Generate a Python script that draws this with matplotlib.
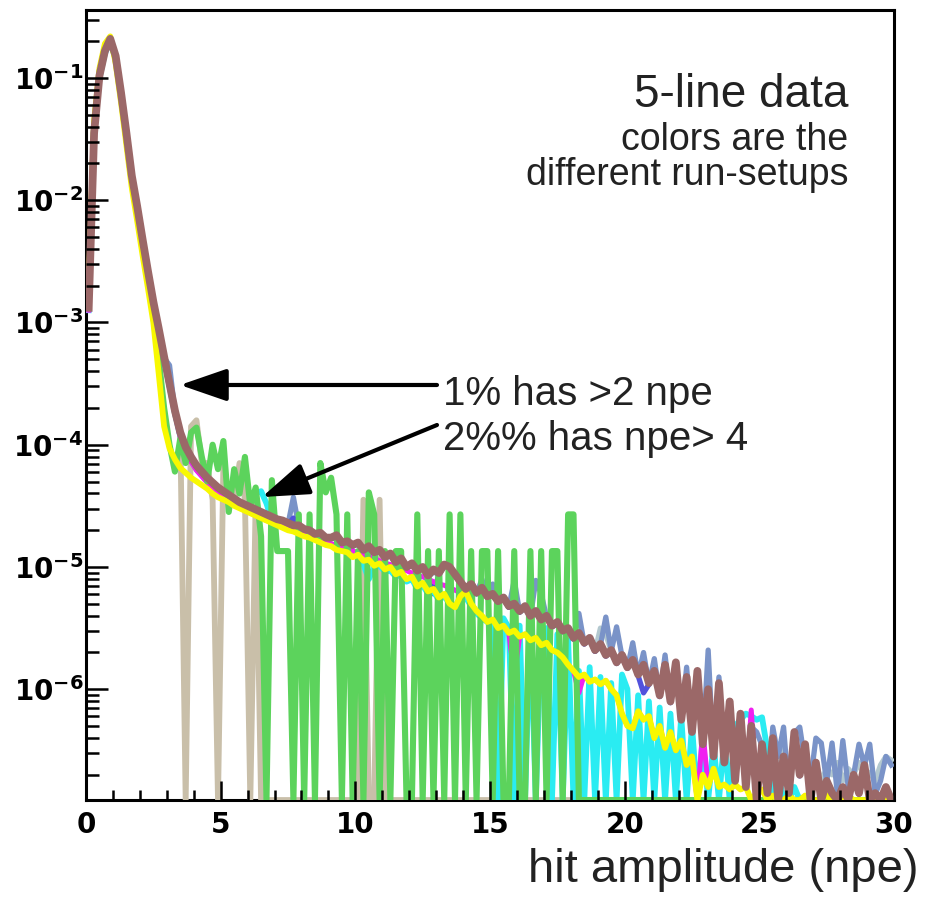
import numpy as np
import matplotlib
matplotlib.use('Agg')
import matplotlib.pyplot as plt
from matplotlib.ticker import FixedLocator, MultipleLocator, LogLocator, NullFormatter

E = np.nan  # empty bin, ROOT draws it on the floor of the frame

# hit amplitude histogram: 150 bins of 0.2 npe from 0 to 30
bin_width = 0.2
n_bins = 150

# log10(normalised bin content), one row = 2 npe
log_brown = [
    -2.88, -1.45, -0.98, -0.78, -0.68, -0.82, -1.12, -1.45, -1.80, -2.05,
    -2.32, -2.58, -2.83, -3.05, -3.28, -3.50, -3.72, -3.90, -4.02, -4.10,
    -4.17, -4.22, -4.27, -4.31, -4.35, -4.38, -4.41, -4.44, -4.47, -4.49,
    -4.51, -4.53, -4.55, -4.57, -4.59, -4.61, -4.62, -4.64, -4.66, -4.66,
    -4.69, -4.70, -4.73, -4.72, -4.76, -4.76, -4.74, -4.80, -4.79, -4.82,
    -4.80, -4.86, -4.83, -4.88, -4.86, -4.92, -4.89, -4.96, -4.93, -5.00,
    -4.97, -5.03, -5.00, -5.07, -5.02, -5.05, -4.98, -5.00, -5.06, -5.12,
    -5.18, -5.14, -5.21, -5.17, -5.24, -5.22, -5.28, -5.25, -5.32, -5.30,
    -5.36, -5.32, -5.40, -5.36, -5.43, -5.40, -5.48, -5.45, -5.52, -5.50,
    -5.58, -5.54, -5.62, -5.58, -5.68, -5.63, -5.72, -5.68, -5.78, -5.72,
    -5.82, -5.76, -5.88, -5.80, -5.95, -5.85, -6.05, -5.80, -6.10, -5.78,
    -6.25, -5.90, -6.35, -5.85, -6.45, -6.00, -6.55, -5.95, -6.60, -6.10,
    -6.75, -6.20, -6.80, -6.30, E, -6.45, -6.85, -6.40, E, -6.55,
    -6.85, -6.35, -6.70, -6.45, E, -6.60, E, -6.75, -6.85, E,
    -6.80, E, -6.70, -6.85, -6.62, E, -6.85, E, -6.80, E,
]

log_yellow = [
    -2.70, -1.35, -0.92, -0.72, -0.66, -0.88, -1.20, -1.55, -1.90, -2.17,
    -2.45, -2.72, -3.00, -3.42, -3.85, -4.03, -4.12, -4.19, -4.23, -4.27,
    -4.30, -4.33, -4.36, -4.40, -4.43, -4.45, -4.47, -4.50, -4.52, -4.54,
    -4.56, -4.58, -4.60, -4.62, -4.64, -4.66, -4.68, -4.70, -4.71, -4.73,
    -4.75, -4.76, -4.78, -4.80, -4.82, -4.83, -4.86, -4.87, -4.88, -4.92,
    -4.90, -4.95, -4.94, -4.99, -4.97, -5.02, -5.00, -5.06, -5.04, -5.10,
    -5.08, -5.16, -5.13, -5.20, -5.18, -5.25, -5.22, -5.30, -5.33, -5.24,
    -5.20, -5.30, -5.36, -5.40, -5.45, -5.43, -5.50, -5.48, -5.54, -5.52,
    -5.57, -5.55, -5.60, -5.58, -5.64, -5.62, -5.68, -5.70, -5.74, -5.80,
    -5.85, -5.90, -5.88, -5.94, -5.92, -5.96, -5.93, -6.00, -6.05, -6.20,
    -6.30, -6.32, -6.18, -6.25, -6.22, -6.40, -6.30, -6.48, -6.35, -6.50,
    -6.42, -6.62, -6.55, E, -6.70, -6.80, -6.65, -6.80, -6.78, -6.82,
    -6.78, -6.82, -6.80, E, -6.85, -6.82, E, -6.87, E, E,
    -6.87, E, E, -6.87, E, E, E, -6.87, E, E,
    E, -6.87, E, E, E, E, E, E, E, E,
]

log_green = [
    -2.80, -1.40, -0.95, -0.75, -0.68, -0.85, -1.15, -1.50, -1.85, -2.10,
    -2.40, -2.65, -2.95, -3.30, -3.70, -4.00, -4.22, -3.95, -4.15, -3.90,
    -3.86, -4.10, -4.30, -4.00, -4.20, -3.97, -4.55, -4.20, -4.40, -4.10,
    -4.50, -4.35, -4.75, E, -4.29, -4.87, -4.87, -4.87, E, -4.57,
    E, -4.57, E, -4.15, -4.39, -4.27, -4.57, E, -4.57, E,
    -4.87, E, -4.39, -4.57, E, -4.87, E, -4.87, -4.87, E,
    E, -4.57, E, -4.87, E, -4.87, E, -4.57, E, -4.57,
    E, -4.87, E, -4.87, -4.87, E, -4.87, E, E, -4.87,
    E, E, -4.87, E, -4.87, E, -4.87, -4.87, E, -4.57,
    -4.57, E, E, E, E, E, E, E, E, E,
    E, E, E, E, E, E, E, E, E, E,
    E, E, E, E, E, E, E, E, E, E,
    E, E, E, E, E, E, E, E, E, E,
    E, E, E, E, E, E, E, E, E, E,
    E, E, E, E, E, E, E, E, E, E,
]

log_tan = [
    -2.85, -1.45, -0.98, -0.78, -0.69, -0.83, -1.13, -1.46, -1.82, -2.07,
    -2.34, -2.60, -2.85, -3.08, -3.30, -3.52, -3.75, -3.90, E, -3.85,
    -3.80, -4.15, -4.15, -4.45, E, -4.15, -4.45, -4.45, -4.15, -4.45,
    E, -4.45, E, E, E, E, E, E, E, E,
    E, E, E, E, E, E, E, E, E, E,
    E, -4.45, E, E, -4.45, E, E, E, E, E,
    E, E, E, E, E, E, E, E, E, E,
    E, E, E, E, E, E, E, E, E, E,
    E, E, E, E, E, E, E, E, E, E,
    E, E, E, E, E, E, E, E, E, E,
    E, E, E, E, E, E, E, E, E, E,
    E, E, E, E, E, E, E, E, E, E,
    E, E, E, E, E, E, E, E, E, E,
    E, E, E, E, E, E, E, E, E, E,
    E, E, E, E, E, E, E, E, E, E,
]

log_cyan = [
    -2.90, -1.47, -1.00, -0.80, -0.70, -0.84, -1.14, -1.47, -1.82, -2.08,
    -2.35, -2.60, -2.85, -3.07, -3.30, -3.52, -3.74, -3.93, -4.05, -4.13,
    -4.20, -4.25, -4.30, -4.34, -4.38, -4.41, -4.44, -4.47, -4.50, -4.53,
    -4.46, -4.40, -4.38, -4.48, -4.62, -4.64, -4.66, -4.68, -4.70, -4.72,
    -4.74, -4.75, -4.77, -4.79, -4.81, -4.82, -4.85, -4.86, -4.88, -4.90,
    -4.92, -4.98, -5.10, -5.00, -4.99, -5.04, -5.03, -5.08, -5.06, -5.12,
    -5.10, -5.18, -5.15, -5.22, -5.20, -5.27, -5.24, -5.30, -5.32, -5.26,
    -5.25, -5.32, -5.38, -5.42, -5.45, -5.44, E, -5.42, -5.50, E,
    -5.48, E, -5.45, E, -5.52, -5.50, E, -5.55, E, -5.60,
    E, -5.85, E, -5.82, E, -5.90, E, -5.95, E, -5.88,
    -6.00, E, -6.05, E, -6.10, E, -6.15, E, -6.20, E,
    -6.22, E, -6.30, E, -6.40, E, -6.45, E, -6.40, E,
    -6.30, -6.25, -6.20, -6.22, -6.25, -6.23, -6.50, E, -6.70, E,
    E, -6.80, E, E, E, E, E, E, E, E,
    E, E, E, E, E, E, E, E, E, E,
]

log_magenta = [
    -2.90, -1.47, -1.00, -0.80, -0.70, -0.84, -1.14, -1.47, -1.82, -2.08,
    -2.36, -2.62, -2.86, -3.08, -3.31, -3.53, -3.75, -3.94, -4.06, -4.14,
    -4.21, -4.26, -4.31, -4.35, -4.39, -4.42, -4.45, -4.48, -4.51, -4.54,
    -4.56, -4.58, -4.60, -4.62, -4.63, -4.65, -4.67, -4.68, -4.69, -4.70,
    -4.72, -4.74, -4.76, -4.77, -4.79, -4.81, -4.82, -4.84, -4.85, -4.87,
    -4.88, -4.90, -4.91, -4.93, -4.95, -4.97, -4.98, -5.00, -5.01, -5.03,
    -5.05, -5.07, -5.08, -5.10, -5.12, -5.14, -5.15, -5.17, -5.19, -5.21,
    -5.20, -5.30, -5.36, -5.40, -5.45, -5.43, -5.50, -5.48, -5.54, -5.90,
    -5.57, -5.55, -5.60, -5.58, -5.64, -5.62, -5.68, -5.70, -5.74, -5.80,
    -5.85, -6.03, -5.88, -5.94, -5.92, -5.96, -5.93, -6.00, -6.05, -6.20,
    -6.30, -6.32, -6.18, -6.25, -6.22, -6.40, -6.30, -6.48, -6.35, -6.50,
    -6.42, -6.62, -6.55, E, -6.33, -6.80, -6.65, -6.80, -6.78, -6.82,
    -6.78, -6.82, -6.80, -6.17, -6.85, -6.82, E, -6.87, E, E,
    -6.87, E, E, -6.87, E, E, E, -6.87, E, E,
    E, E, E, E, E, E, E, E, E, E,
]

log_purple = [
    -2.89, -1.46, -0.99, -0.79, -0.69, -0.83, -1.13, -1.46, -1.81, -2.06,
    -2.33, -2.59, -2.84, -3.06, -3.29, -3.51, -3.73, -3.91, -4.03, -4.11,
    -4.18, -4.23, -4.28, -4.32, -4.36, -4.39, -4.42, -4.45, -4.48, -4.50,
    -4.52, -4.54, -4.56, -4.58, -4.60, -4.62, -4.63, -4.65, -4.60, -4.67,
    -4.70, -4.71, -4.74, -4.73, -4.77, -4.77, -4.75, -4.81, -4.80, -4.83,
    -4.81, -4.87, -4.84, -4.89, -4.87, -4.93, -4.90, -4.97, -4.94, -5.01,
    -4.98, -5.04, -5.01, -5.08, -5.22, -5.06, -4.99, -5.01, -5.07, -5.13,
    -5.19, -5.15, -5.22, -5.18, -5.25, -5.23, -5.29, -5.26, -5.33, -5.31,
    -5.37, -5.33, -5.41, -5.37, -5.44, -5.41, -5.49, -5.46, -5.53, -5.51,
    -5.59, -5.55, -5.63, -5.59, -5.69, -5.64, -5.73, -5.69, -5.79, -5.73,
    -5.83, -5.77, -5.89, -6.03, -5.96, -5.86, -6.06, -5.81, -6.11, -5.79,
    -6.26, -5.91, -6.36, -5.86, -6.46, -6.01, -6.56, -5.96, -6.61, -6.11,
    -6.76, -6.21, -6.81, -6.31, E, -6.46, -6.86, -6.41, E, -6.56,
    -6.86, -6.36, -6.71, -6.46, E, -6.61, E, -6.76, -6.86, E,
    -6.81, E, -6.71, -6.86, -6.63, E, -6.86, E, -6.81, E,
]

log_steel = [
    -2.89, -1.46, -0.99, -0.79, -0.69, -0.83, -1.13, -1.46, -1.81, -2.06,
    -2.33, -2.59, -2.84, -3.06, -3.29, -3.35, -3.73, -3.91, -4.03, -4.11,
    -4.18, -4.23, -4.28, -4.32, -4.36, -4.39, -4.42, -4.45, -4.48, -4.50,
    -4.52, -4.54, -4.56, -4.58, -4.60, -4.62, -4.63, -4.65, -4.43, -4.67,
    -4.70, -4.71, -4.74, -4.73, -4.77, -4.77, -4.75, -4.81, -4.80, -4.83,
    -4.81, -4.87, -4.84, -4.89, -4.87, -4.93, -4.90, -4.97, -4.94, -5.01,
    -4.98, -5.04, -5.01, -5.08, -5.04, -5.06, -4.99, -5.01, -5.07, -5.13,
    -5.19, -5.11, -5.22, -5.10, -5.25, -5.14, -5.29, -5.26, -5.33, -5.11,
    -5.37, -5.33, -5.41, -5.11, -5.22, -5.41, -5.49, -5.46, -5.53, -5.51,
    -5.59, -5.38, -5.63, -5.59, -5.69, -5.64, -5.41, -5.69, -5.49, -5.73,
    -5.83, -5.62, -5.89, -5.70, -5.96, -5.75, -6.06, -5.72, -6.11, -5.79,
    -6.26, -5.82, -6.36, -5.86, -6.46, -5.68, -6.56, -5.90, -6.61, -6.11,
    -6.76, -6.21, -6.81, -6.31, -6.35, -6.46, -6.86, -6.31, -6.55, -6.31,
    -6.86, -6.36, -6.31, -6.60, -6.75, -6.40, -6.44, -6.76, -6.44, -6.86,
    -6.42, -6.80, -6.70, -6.45, -6.63, -6.45, -6.86, -6.75, -6.55, -6.62,
]

log_lightblue = [
    -2.89, -1.46, -0.99, -0.79, -0.69, -0.83, -1.13, -1.46, -1.81, -2.06,
    -2.33, -2.59, -2.84, -3.06, -3.29, -3.51, -3.73, -3.91, -4.03, -4.11,
    -4.18, -4.23, -4.28, -4.32, -4.36, -4.39, -4.42, -4.45, -4.48, -4.50,
    -4.52, -4.54, -4.56, -4.58, -4.60, -4.62, -4.63, -4.65, -4.66, -4.67,
    -4.70, -4.71, -4.74, -4.73, -4.77, -4.77, -4.75, -4.81, -4.80, -4.83,
    -4.81, -4.87, -4.84, -4.89, -4.87, -4.93, -4.90, -4.97, -4.94, -5.01,
    -4.98, -5.04, -5.01, -5.08, -5.04, -5.06, -4.99, -5.01, -5.07, -5.13,
    -5.19, -5.15, -5.22, -5.18, -5.25, -5.23, -5.29, -5.26, -5.33, -5.31,
    -5.37, -5.33, -5.41, -5.37, -5.44, -5.41, -5.49, -5.46, -5.53, -5.51,
    -5.59, -5.55, -5.63, -5.59, -5.69, -5.50, -5.55, -5.69, -5.79, -5.73,
    -5.83, -5.77, -5.89, -5.81, -5.96, -5.86, -6.06, -5.81, -6.11, -5.79,
    -6.26, -5.91, -6.36, -5.86, -6.46, -6.01, -6.56, -5.96, -6.61, -6.11,
    -6.50, -6.40, -6.55, -6.45, -6.60, -6.50, -6.65, -6.55, -6.60, -6.50,
    -6.60, -6.55, -6.65, -6.50, -6.70, -6.60, -6.75, -6.65, -6.70, -6.60,
    -6.75, -6.65, -6.70, -6.60, -6.72, -6.68, -6.75, -6.62, -6.55, -6.58,
]

# drawing order follows the stacking seen in the picture (last on top)
series = [
    (log_tan, '#c9bfa9', 4.2),
    (log_lightblue, '#b3c8cf', 3.8),
    (log_steel, '#7a93c8', 3.8),
    (log_purple, '#5252dc', 3.8),
    (log_cyan, '#2aecf2', 4.2),
    (log_magenta, '#f021f0', 3.6),
    (log_green, '#5cd35c', 4.4),
    (log_yellow, '#f8f800', 4.2),
    (log_brown, '#9b6868', 5.6),
]

y_min, y_max = 1.24e-7, 0.36
x_min, x_max = 0, 30

text_color = '#222222'
slide_font = 'Liberation Sans'


def main():
    x = bin_width * (np.arange(n_bins) + 0.5)

    fig = plt.figure(figsize=(9.27, 8.97), dpi=100)
    ax = fig.add_axes([0.0928, 0.1081, 0.8716, 0.8808])

    for z, (logs, color, lw) in enumerate(series):
        y = 10.0 ** np.array(logs, dtype=float)
        # empty bins are drawn on the bottom of the frame, like ROOT does
        y = np.where(np.isnan(y), y_min, y)
        ax.plot(x, y, color=color, lw=lw, zorder=3 + z)

    ax.set_yscale('log')
    ax.set_xlim(x_min, x_max)
    ax.set_ylim(y_min, y_max)

    # ROOT style frame: inside ticks, bold labels
    for side in ['left', 'right', 'top', 'bottom']:
        ax.spines[side].set_linewidth(2.2)
        ax.spines[side].set_zorder(1)
    ax.xaxis.set_zorder(20)
    ax.yaxis.set_zorder(20)

    xt = list(range(0, 31, 5))
    ax.xaxis.set_major_locator(FixedLocator(xt))
    ax.xaxis.set_minor_locator(MultipleLocator(1))
    ax.set_xticklabels([str(v) for v in xt], fontsize=20, fontweight='bold', family='DejaVu Sans')

    decades = [1e-6, 1e-5, 1e-4, 1e-3, 1e-2, 1e-1]
    ax.yaxis.set_major_locator(FixedLocator(decades))
    ax.yaxis.set_minor_locator(LogLocator(base=10, subs=np.arange(2, 10), numticks=20))
    ax.yaxis.set_minor_formatter(NullFormatter())
    ax.set_yticklabels([r'$\mathbf{10^{%d}}$' % int(round(np.log10(d))) for d in decades], fontsize=20)

    ax.tick_params(axis='both', which='both', direction='in', width=1.8, colors='black',
                   top=False, right=False)
    ax.tick_params(axis='x', which='major', length=14, pad=8)
    ax.tick_params(axis='x', which='minor', length=7)
    ax.tick_params(axis='y', which='major', length=16, pad=2)
    ax.tick_params(axis='y', which='minor', length=9)

    # slide annotations
    fig.text(0.9148, 0.8807, '5-line data', ha='right', va='baseline',
             fontsize=33, family=slide_font, color=text_color)
    fig.text(0.9148, 0.8328, 'colors are the', ha='right', va='baseline',
             fontsize=27, family=slide_font, color=text_color)
    fig.text(0.9148, 0.7938, 'different run-setups', ha='right', va='baseline',
             fontsize=27, family=slide_font, color=text_color)
    fig.text(0.4779, 0.5485, '1% has >2 npe', ha='left', va='baseline',
             fontsize=29, family=slide_font, color=text_color)
    fig.text(0.4779, 0.4983, '2%% has npe> 4', ha='left', va='baseline',
             fontsize=29, family=slide_font, color=text_color)
    fig.text(0.9903, 0.0167, 'hit amplitude (npe)', ha='right', va='baseline',
             fontsize=34, family=slide_font, color=text_color)

    arrow = dict(arrowstyle='-|>,head_length=1.45,head_width=0.5', mutation_scale=20,
                 lw=3, color='black', shrinkA=0, shrinkB=0)
    ax.annotate('', xy=(0.1942, 0.5708), xytext=(0.4714, 0.5708),
                xycoords='figure fraction', textcoords='figure fraction',
                arrowprops=arrow, zorder=30)
    ax.annotate('', xy=(0.2826, 0.4459), xytext=(0.4714, 0.5262),
                xycoords='figure fraction', textcoords='figure fraction',
                arrowprops=arrow, zorder=30)

    fig.savefig('out.png', dpi=100, facecolor='white')


if __name__ == '__main__':
    main()
